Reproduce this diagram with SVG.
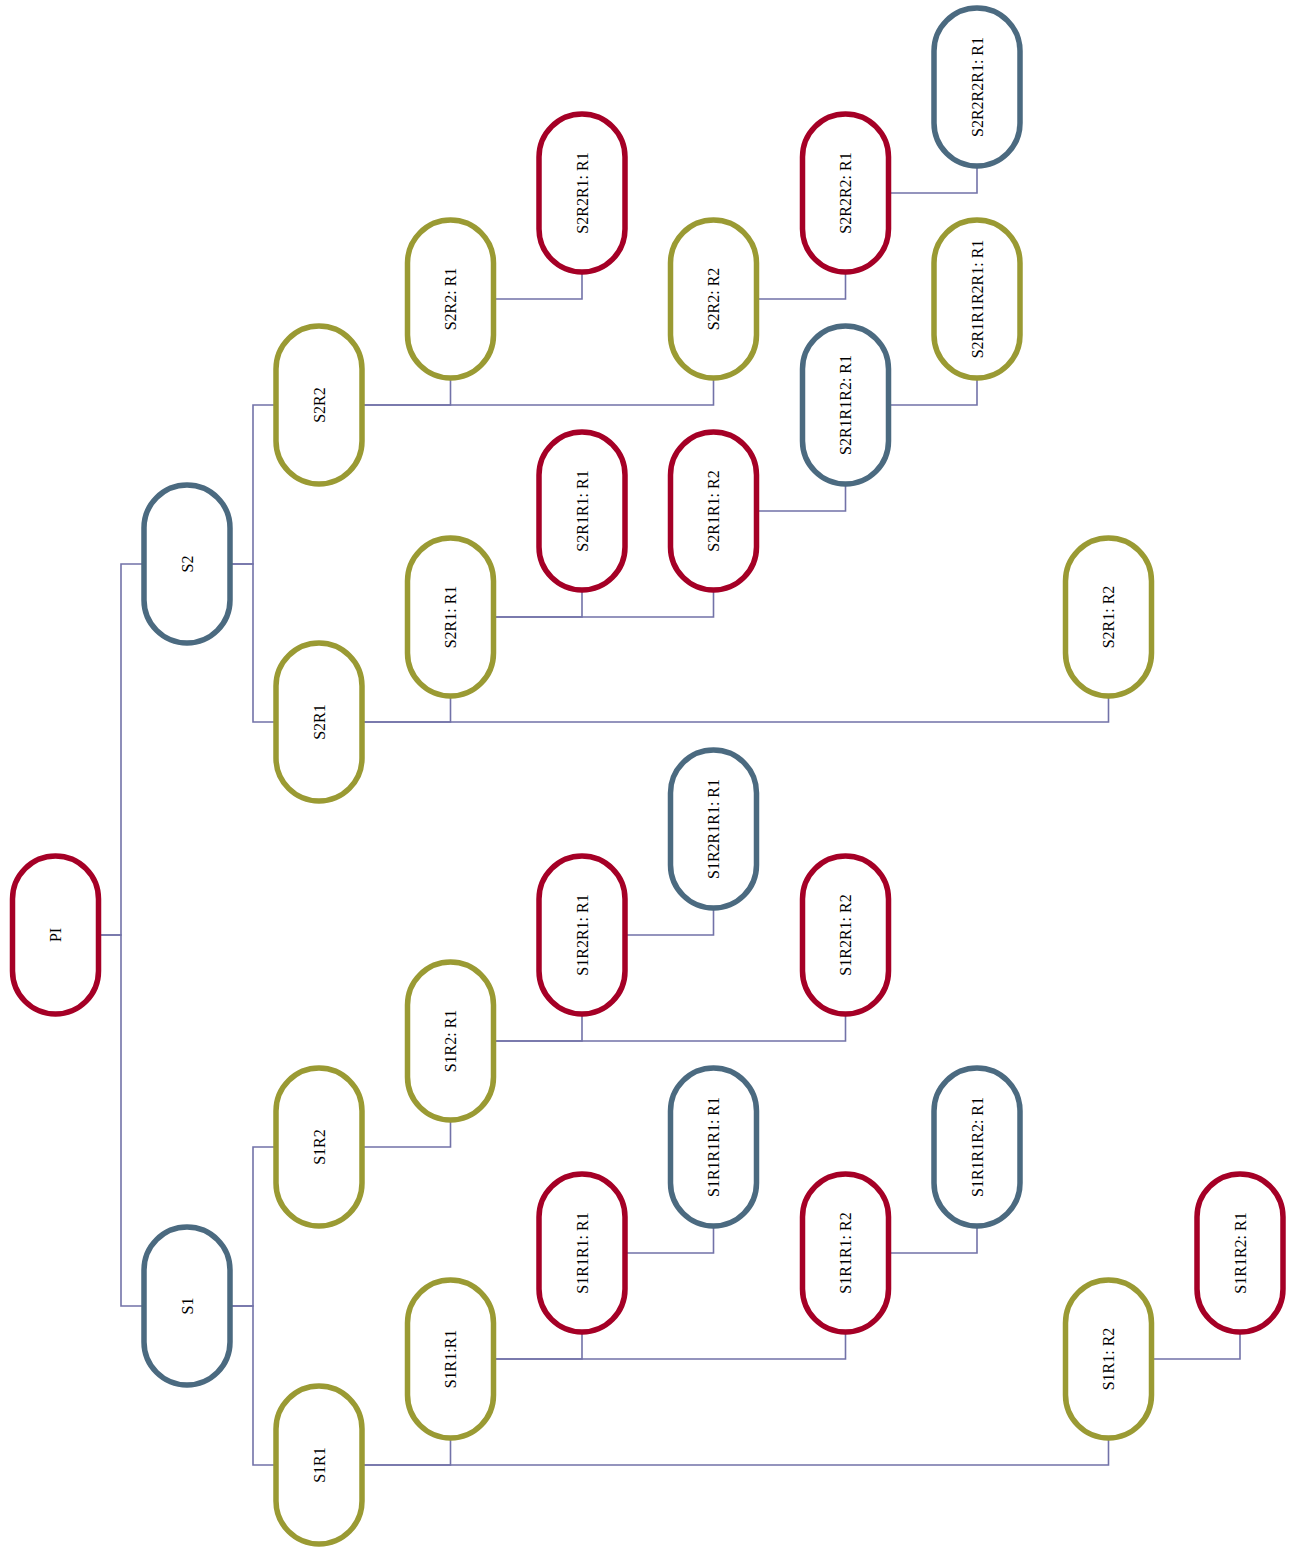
<svg xmlns="http://www.w3.org/2000/svg" width="1289" height="1553" viewBox="0 0 1289 1553">
<style>
.n{fill:#fff;stroke-width:5.5}
.red{stroke:#a50026}
.blue{stroke:#4b6a80}
.olive{stroke:#9a9a33}
.t{font-family:"Liberation Serif","Times New Roman",serif;font-size:16px;fill:#000;text-anchor:middle;dominant-baseline:central}
.e{fill:none;stroke:#7272a8;stroke-width:1.6}
</style>
<rect width="1289" height="1553" fill="#fff"/>
<g id="connectors">
<path class="e" d="M99,935H121V564H144"/>
<path class="e" d="M99,935H121V1306H144"/>
<path class="e" d="M230,564H253V405H276"/>
<path class="e" d="M230,564H253V722H276"/>
<path class="e" d="M230,1306H253V1147H276"/>
<path class="e" d="M230,1306H253V1465H276"/>
<path class="e" d="M362,405H450.5V378"/>
<path class="e" d="M362,405H713.5V378"/>
<path class="e" d="M493.5,299H582V272"/>
<path class="e" d="M756.5,299H845.5V272"/>
<path class="e" d="M888.5,193H977V166"/>
<path class="e" d="M362,722H450.5V696"/>
<path class="e" d="M362,722H1108.5V696"/>
<path class="e" d="M493.5,617H582V590"/>
<path class="e" d="M493.5,617H713.5V590"/>
<path class="e" d="M756.5,511H845.5V484"/>
<path class="e" d="M888.5,405H977V378"/>
<path class="e" d="M362,1147H450.5V1120"/>
<path class="e" d="M493.5,1041H582V1014"/>
<path class="e" d="M493.5,1041H845.5V1014"/>
<path class="e" d="M625,935H713.5V908"/>
<path class="e" d="M362,1465H450.5V1438"/>
<path class="e" d="M362,1465H1108.5V1438"/>
<path class="e" d="M493.5,1359H582V1332"/>
<path class="e" d="M493.5,1359H845.5V1332"/>
<path class="e" d="M625,1253H713.5V1226"/>
<path class="e" d="M888.5,1253H977V1226"/>
<path class="e" d="M1151.5,1359H1240V1332"/>
</g>
<g id="PI"><rect class="n red" x="12.5" y="856" width="86" height="158" rx="43"/><text class="t" transform="translate(55.5,935) rotate(-90)">PI</text></g>
<g id="S2"><rect class="n blue" x="144" y="485" width="86" height="158" rx="43"/><text class="t" transform="translate(187,564) rotate(-90)">S2</text></g>
<g id="S1"><rect class="n blue" x="144" y="1227" width="86" height="158" rx="43"/><text class="t" transform="translate(187,1306) rotate(-90)">S1</text></g>
<g id="S2R2"><rect class="n olive" x="276" y="326" width="86" height="158" rx="43"/><text class="t" transform="translate(319,405) rotate(-90)">S2R2</text></g>
<g id="S2R1"><rect class="n olive" x="276" y="643" width="86" height="158" rx="43"/><text class="t" transform="translate(319,722) rotate(-90)">S2R1</text></g>
<g id="S1R2"><rect class="n olive" x="276" y="1068" width="86" height="158" rx="43"/><text class="t" transform="translate(319,1147) rotate(-90)">S1R2</text></g>
<g id="S1R1"><rect class="n olive" x="276" y="1386" width="86" height="158" rx="43"/><text class="t" transform="translate(319,1465) rotate(-90)">S1R1</text></g>
<g id="S2R2-R1"><rect class="n olive" x="407.5" y="220" width="86" height="158" rx="43"/><text class="t" transform="translate(450.5,299) rotate(-90)">S2R2: R1</text></g>
<g id="S2R2-R2"><rect class="n olive" x="670.5" y="220" width="86" height="158" rx="43"/><text class="t" transform="translate(713.5,299) rotate(-90)">S2R2: R2</text></g>
<g id="S2R2R1-R1"><rect class="n red" x="539" y="114" width="86" height="158" rx="43"/><text class="t" transform="translate(582,193) rotate(-90)">S2R2R1: R1</text></g>
<g id="S2R2R2-R1"><rect class="n red" x="802.5" y="114" width="86" height="158" rx="43"/><text class="t" transform="translate(845.5,193) rotate(-90)">S2R2R2: R1</text></g>
<g id="S2R2R2R1-R1"><rect class="n blue" x="934" y="8" width="86" height="158" rx="43"/><text class="t" transform="translate(977,87) rotate(-90)">S2R2R2R1: R1</text></g>
<g id="S2R1R1R2R1-R1"><rect class="n olive" x="934" y="220" width="86" height="158" rx="43"/><text class="t" transform="translate(977,299) rotate(-90)">S2R1R1R2R1: R1</text></g>
<g id="S2R1R1R2-R1"><rect class="n blue" x="802.5" y="326" width="86" height="158" rx="43"/><text class="t" transform="translate(845.5,405) rotate(-90)">S2R1R1R2: R1</text></g>
<g id="S2R1R1-R1"><rect class="n red" x="539" y="432" width="86" height="158" rx="43"/><text class="t" transform="translate(582,511) rotate(-90)">S2R1R1: R1</text></g>
<g id="S2R1R1-R2"><rect class="n red" x="670.5" y="432" width="86" height="158" rx="43"/><text class="t" transform="translate(713.5,511) rotate(-90)">S2R1R1: R2</text></g>
<g id="S2R1-R1"><rect class="n olive" x="407.5" y="538" width="86" height="158" rx="43"/><text class="t" transform="translate(450.5,617) rotate(-90)">S2R1: R1</text></g>
<g id="S2R1-R2"><rect class="n olive" x="1065.5" y="538" width="86" height="158" rx="43"/><text class="t" transform="translate(1108.5,617) rotate(-90)">S2R1: R2</text></g>
<g id="S1R2R1R1-R1"><rect class="n blue" x="670.5" y="750" width="86" height="158" rx="43"/><text class="t" transform="translate(713.5,829) rotate(-90)">S1R2R1R1: R1</text></g>
<g id="S1R2R1-R1"><rect class="n red" x="539" y="856" width="86" height="158" rx="43"/><text class="t" transform="translate(582,935) rotate(-90)">S1R2R1: R1</text></g>
<g id="S1R2R1-R2"><rect class="n red" x="802.5" y="856" width="86" height="158" rx="43"/><text class="t" transform="translate(845.5,935) rotate(-90)">S1R2R1: R2</text></g>
<g id="S1R2-R1"><rect class="n olive" x="407.5" y="962" width="86" height="158" rx="43"/><text class="t" transform="translate(450.5,1041) rotate(-90)">S1R2: R1</text></g>
<g id="S1R1R1R1-R1"><rect class="n blue" x="670.5" y="1068" width="86" height="158" rx="43"/><text class="t" transform="translate(713.5,1147) rotate(-90)">S1R1R1R1: R1</text></g>
<g id="S1R1R1R2-R1"><rect class="n blue" x="934" y="1068" width="86" height="158" rx="43"/><text class="t" transform="translate(977,1147) rotate(-90)">S1R1R1R2: R1</text></g>
<g id="S1R1R1-R1"><rect class="n red" x="539" y="1174" width="86" height="158" rx="43"/><text class="t" transform="translate(582,1253) rotate(-90)">S1R1R1: R1</text></g>
<g id="S1R1R1-R2"><rect class="n red" x="802.5" y="1174" width="86" height="158" rx="43"/><text class="t" transform="translate(845.5,1253) rotate(-90)">S1R1R1: R2</text></g>
<g id="S1R1R2-R1"><rect class="n red" x="1197" y="1174" width="86" height="158" rx="43"/><text class="t" transform="translate(1240,1253) rotate(-90)">S1R1R2: R1</text></g>
<g id="S1R1-R1"><rect class="n olive" x="407.5" y="1280" width="86" height="158" rx="43"/><text class="t" transform="translate(450.5,1359) rotate(-90)">S1R1:R1</text></g>
<g id="S1R1-R2"><rect class="n olive" x="1065.5" y="1280" width="86" height="158" rx="43"/><text class="t" transform="translate(1108.5,1359) rotate(-90)">S1R1: R2</text></g>
</svg>
